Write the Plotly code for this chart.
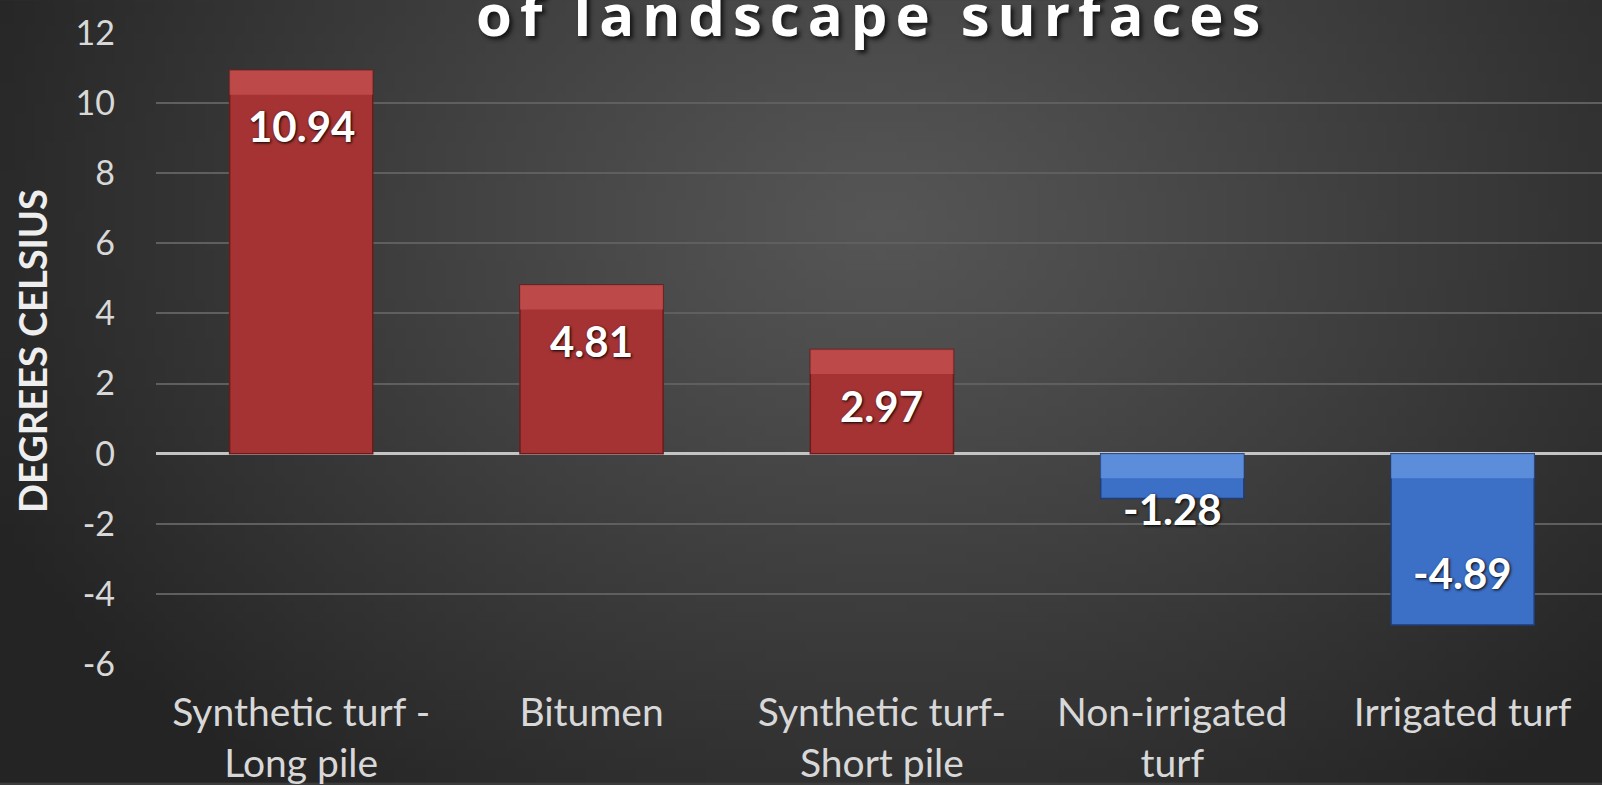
import base64
import struct
import zlib
import plotly.graph_objects as go

# ---------------- data ----------------
categories = [
    "Synthetic turf -<br>Long pile",
    "Bitumen",
    "Synthetic turf-<br>Short pile",
    "Non-irrigated<br>turf",
    "Irrigated turf",
]
values = [10.94, 4.81, 2.97, -1.28, -4.89]
value_labels = ["10.94", "4.81", "2.97", "-1.28", "-4.89"]
y_ticks = [12, 10, 8, 6, 4, 2, 0, -2, -4, -6]
title_text = "of landscape surfaces"
y_title = "DEGREES CELSIUS"

# ---------------- style ----------------
W, H = 1602, 785
ML, MR, MT, MB = 156, 0, 33, 119
PW, PH = W - ML - MR, H - MT - MB
RED = "#a63333"
RED_TOP = "#c85252"
BLUE = "#3c6fc6"
BLUE_TOP = "#6a9ae4"
FONT = "Lato"
BEVEL = 0.7  # depth of the lighter top band, in axis units
PX_PER_UNIT = PH / 18.0


def gradient_png(w=160, h=80):
    """Radial dark-grey background gradient encoded as a PNG data URI."""
    cx, cy = 0.55, 0.28
    rows = b""
    for j in range(h):
        row = bytearray([0])
        for i in range(w):
            dx = (i / (w - 1) - cx) / 0.62
            dy = (j / (h - 1) - cy) / 0.95
            d = min((dx * dx + dy * dy) ** 0.5, 1.0)
            v = int(86 - 50 * d ** 1.1)
            row.append(max(0, min(255, v)))
        rows += bytes(row)

    def chunk(tag, data):
        c = struct.pack(">I", len(data)) + tag + data
        return c + struct.pack(">I", zlib.crc32(tag + data) & 0xFFFFFFFF)

    png = b"\x89PNG\r\n\x1a\n"
    png += chunk(b"IHDR", struct.pack(">IIBBBBB", w, h, 8, 0, 0, 0, 0))
    png += chunk(b"IDAT", zlib.compress(rows, 9))
    png += chunk(b"IEND", b"")
    return "data:image/png;base64," + base64.b64encode(png).decode()


colors = [RED if v >= 0 else BLUE for v in values]
top_colors = [RED_TOP if v >= 0 else BLUE_TOP for v in values]
line_colors = ["#6a1c1c" if v >= 0 else "#1f3d78" for v in values]

fig = go.Figure()
fig.add_trace(
    go.Bar(
        x=categories,
        y=values,
        marker=dict(color=colors, line=dict(color=line_colors, width=1.5)),
        hoverinfo="x+y",
        showlegend=False,
    )
)
# lighter bevel band on the upper edge of every bar (light from above)
fig.add_trace(
    go.Bar(
        x=categories,
        y=[-BEVEL for _ in values],
        base=[max(v, 0) for v in values],
        marker=dict(color=top_colors, line=dict(width=0)),
        opacity=0.7,
        hoverinfo="skip",
        showlegend=False,
    )
)

# value labels ("inside end"; short bars push the label past the end)
for cat, v, lab in zip(categories, values, value_labels):
    if v >= 0:
        shift = -56
    else:
        shift = 52 if abs(v) * PX_PER_UNIT > 100 else -10
    fig.add_annotation(
        x=cat, y=v, yshift=shift, text=lab, showarrow=False,
        font=dict(family=FONT, size=42, color="#ffffff", weight="bold",
                  shadow="1px 1px 3px #000000"),
    )

# title (its first line is cropped off in the reference)
fig.add_annotation(
    xref="paper", yref="paper", x=(872 - ML) / PW, y=(H - MB - 55) / PH,
    xanchor="center", yanchor="bottom", showarrow=False,
    text='<span style="letter-spacing:8px">' + title_text + "</span>",
    font=dict(family="Open Sans", size=58, color="#ffffff", weight="bold",
              shadow="3px 3px 4px #151515"),
)

# y-axis title
fig.add_annotation(
    xref="paper", yref="paper", x=(32 - ML) / PW, y=(H - MB - 352) / PH,
    xanchor="center", yanchor="middle", showarrow=False, textangle=-90,
    text=y_title,
    font=dict(family=FONT, size=38, color="#eeeeee", weight="bold"),
)

fig.add_layout_image(
    source=gradient_png(), xref="paper", yref="paper",
    x=-ML / PW, y=1 + MT / PH, sizex=W / PW, sizey=H / PH,
    xanchor="left", yanchor="top", sizing="stretch", layer="below",
)

fig.update_layout(
    width=W, height=H,
    margin=dict(l=ML, r=MR, t=MT, b=MB, pad=0),
    paper_bgcolor="#3c3c3c",
    plot_bgcolor="rgba(0,0,0,0)",
    barmode="overlay",
    bargap=0.507,
    font=dict(family=FONT, color="#d8d8d8"),
    xaxis=dict(
        range=[-0.5, 4.48], showgrid=False, zeroline=False, showline=False,
        ticks="", ticklabelstandoff=22,
        tickfont=dict(family=FONT, size=39, color="#d8d8d8"),
    ),
    yaxis=dict(
        range=[-6, 12], tickvals=y_ticks, ticktext=[str(t) for t in y_ticks],
        showgrid=True, gridcolor="#5f5f5f", gridwidth=1.5,
        zeroline=True, zerolinecolor="#c4c4c4", zerolinewidth=3,
        showline=False, ticks="", ticklabelstandoff=40,
        tickfont=dict(family=FONT, size=34, color="#d8d8d8"),
    ),
)

fig.write_html(
    "out.html",
    config={"displayModeBar": False},
    post_script="document.body.style.margin='0';document.body.style.overflow='hidden';",
)
